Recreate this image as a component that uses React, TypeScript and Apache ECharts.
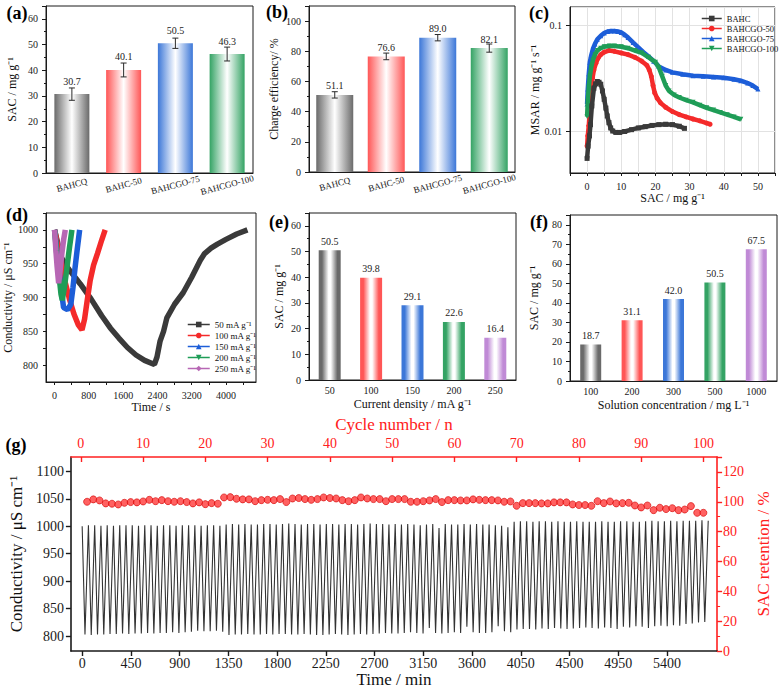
import { useEffect, useRef } from 'react';
import * as echarts from 'echarts';

const FONT = '"Liberation Serif", "Times New Roman", Times, serif';

// ---------- (a) / (b)
const electrodeNames = ['BAHCQ', 'BAHC-50', 'BAHCGO-75', 'BAHCGO-100'];
const sacValues = [30.7, 40.1, 50.5, 46.3];
const sacErrors = [2.4, 2.7, 2.0, 2.7];
const ceValues = [51.1, 76.6, 89.0, 82.1];
const ceErrors = [2.1, 2.2, 2.1, 2.7];

// ---------- (c) MSAR vs SAC
const cNames = ['BAHC', 'BAHCGO-50', 'BAHCGO-75', 'BAHCGO-100'];
const bahcX = [0, 0.3, 0.7, 1.0, 1.4, 2.0, 2.5, 3.0, 3.5, 4.0, 4.5, 5.0, 5.5, 5.9, 6.4, 6.9, 7.5, 8.4, 9.5, 11, 13, 15, 17, 19, 21, 23, 25, 27, 28.5];
const bahcY = [0.0055, 0.0072, 0.009, 0.0115, 0.0173, 0.0255, 0.028, 0.0295, 0.029, 0.0278, 0.024, 0.02, 0.0165, 0.0139, 0.012, 0.0107, 0.01, 0.0097, 0.0097, 0.0099, 0.0103, 0.0107, 0.011, 0.0113, 0.0115, 0.0116, 0.0115, 0.0111, 0.0106];
const go50X = [0, 0.2, 0.5, 0.8, 1.2, 1.6, 2.0, 2.6, 3.2, 4, 5, 6.4, 8, 10, 12, 14, 16, 17.5, 18.2, 18.8, 19.3, 19.8, 20.5, 21.5, 23, 25, 27, 29, 31, 33, 35, 36];
const go50Y = [0.0072, 0.009, 0.0112, 0.016, 0.024, 0.032, 0.038, 0.044, 0.049, 0.053, 0.056, 0.058, 0.057, 0.055, 0.053, 0.05, 0.046, 0.042, 0.038, 0.033, 0.027, 0.023, 0.0205, 0.0185, 0.0168, 0.0153, 0.0143, 0.0136, 0.013, 0.0125, 0.0119, 0.0116];
const go75X = [0, 0.2, 0.5, 0.8, 1.2, 1.7, 2.3, 3, 4, 5, 6, 7, 8, 9, 10, 11, 12, 13.5, 15, 16.5, 18, 19.5, 21, 23, 25, 28, 31, 34, 37, 40, 43, 45, 47, 48.5, 50];
const go75Y = [0.018, 0.025, 0.035, 0.045, 0.052, 0.06, 0.067, 0.074, 0.08, 0.085, 0.088, 0.089, 0.089, 0.088, 0.086, 0.082, 0.077, 0.069, 0.062, 0.056, 0.051, 0.046, 0.041, 0.038, 0.036, 0.0345, 0.0335, 0.033, 0.0325, 0.032, 0.031, 0.03, 0.0285, 0.027, 0.025];
const go100X = [0, 0.2, 0.5, 0.8, 1.2, 1.7, 2.3, 3, 4, 5, 6.5, 8, 10, 12, 14, 16, 18, 20, 21, 22, 23, 24, 25.5, 27, 29, 31, 33, 35, 37, 39, 41, 43, 45];
const go100Y = [0.0137, 0.019, 0.026, 0.033, 0.04, 0.047, 0.053, 0.058, 0.061, 0.063, 0.064, 0.064, 0.063, 0.061, 0.058, 0.055, 0.05, 0.045, 0.04, 0.033, 0.027, 0.024, 0.022, 0.0208, 0.0196, 0.0187, 0.0176, 0.0166, 0.0158, 0.015, 0.0143, 0.0136, 0.0129];

// ---------- (d) conductivity vs time
const dNames = ['50 mA g\u207B\u00B9', '100 mA g\u207B\u00B9', '150 mA g\u207B\u00B9', '200 mA g\u207B\u00B9', '250 mA g\u207B\u00B9'];
const d50T = [0, 150, 330, 600, 850, 1100, 1300, 1500, 1700, 1900, 2100, 2330, 2390, 2460, 2543, 2620, 2800, 3000, 3200, 3400, 3500, 3650, 3800, 4000, 4250, 4500];
const d50C = [1000, 960, 942, 920, 898, 873, 855, 840, 826, 815, 807, 801, 812, 835, 850, 870, 890, 907, 930, 955, 965, 973, 979, 986, 994, 1000];
const d100T = [0, 80, 160, 250, 350, 450, 550, 640, 700, 760, 830, 910, 1000, 1100, 1180];
const d100C = [1000, 975, 950, 922, 897, 876, 860, 852, 868, 895, 925, 948, 965, 985, 1000];
const d150T = [0, 70, 140, 210, 300, 380, 430, 480, 530, 585];
const d150C = [1000, 960, 920, 885, 882, 890, 915, 945, 972, 1000];
const d200T = [0, 50, 100, 150, 180, 230, 290, 350, 405];
const d200C = [1000, 965, 935, 905, 896, 915, 945, 975, 1000];
const d250T = [0, 30, 60, 95, 130, 170, 210, 250];
const d250C = [1000, 970, 945, 921, 940, 965, 985, 1000];

// ---------- (e) current density
const currentDensity = ['50', '100', '150', '200', '250'];
const sacByCurrent = [50.5, 39.8, 29.1, 22.6, 16.4];

// ---------- (f) solution concentration
const concentration = ['100', '200', '300', '500', '1000'];
const sacByConc = [18.7, 31.1, 42.0, 50.5, 67.5];

// ---------- (g) cycling
const cyclePeriodMin = 57.8;
const cyclePeaks = [
  1000, 1002, 1002, 1001, 1002, 1001, 1002, 1002, 1002, 1001, 1002, 1002, 1001, 1002, 1002, 1001, 1002, 1002, 1002, 1001, 1002, 1002, 1001,
  1003, 1004, 1003, 1004, 1003, 1003, 1004, 1004, 1003, 1004, 1005, 1004, 1003, 1004, 1004, 1003, 1004, 1004, 1003, 1004, 1004, 1003, 1004,
  1005, 1004, 1004, 1003, 1004, 1003, 1004, 1003, 1002, 1003, 1004, 997, 1004, 1003, 1003, 1004, 1003, 1004, 1003, 1003, 1002, 1001, 998,
  1008, 1009, 1009, 1008, 1009, 1009, 1008, 1009, 1008, 1008, 1009, 1008, 1008, 1008, 1009, 1008, 1008, 1009, 1009, 1008, 1008, 1009, 1010, 1009, 1009, 1010, 1009, 1010, 1010, 1010, 1011, 1010,
];
const cycleTroughs = [
  803, 802, 803, 803, 804, 804, 805, 804, 805, 805, 806, 805, 806, 806, 807, 806, 807, 808, 810, 809, 809, 810, 808,
  802, 803, 803, 804, 803, 803, 804, 803, 804, 804, 803, 803, 804, 803, 802, 802, 803, 804, 803, 802, 803, 804, 803,
  804, 805, 806, 805, 805, 806, 807, 806, 805, 815, 806, 805, 806, 807, 806, 817, 807, 806, 806, 807, 818, 809, 807,
  812, 813, 813, 812, 814, 813, 815, 814, 813, 814, 815, 816, 815, 814, 816, 815, 813, 817, 816, 818, 817, 815, 818, 819, 818, 820, 819, 822, 823, 825, 826,
];
const retention = [
  100.0, 101.6, 100.9, 98.9, 98.7, 98.2, 99.3, 99.8, 99.6, 100.2,
  101.3, 100.4, 101.1, 100.4, 100.0, 100.4, 99.8, 98.9, 99.6, 98.4,
  99.1, 98.7, 102.9, 103.1, 102.0, 101.6, 101.6, 100.4, 101.1, 101.3,
  101.1, 101.8, 99.8, 102.2, 102.5, 101.8, 101.3, 101.8, 102.9, 102.5,
  102.2, 101.1, 100.4, 101.1, 102.9, 102.2, 101.8, 101.8, 100.4, 101.8,
  101.8, 101.8, 100.0, 100.0, 100.4, 100.9, 101.8, 99.8, 101.1, 101.1,
  100.9, 100.9, 101.6, 101.3, 101.1, 101.1, 100.9, 100.0, 100.2, 97.3,
  99.1, 99.1, 99.1, 98.9, 98.9, 99.6, 99.6, 99.6, 98.2, 97.8,
  97.8, 97.3, 100.4, 99.1, 100.2, 98.9, 99.1, 99.3, 97.5, 96.2,
  97.5, 94.4, 96.0, 95.1, 95.7, 94.4, 94.8, 97.1, 92.6, 92.6,
];
const timeTicks = [0, 450, 900, 1350, 1800, 2250, 2700, 3150, 3600, 4050, 4500, 4950, 5400];
const cycleTicks = [0, 10, 20, 30, 40, 50, 60, 70, 80, 90, 100];
const condTicksG = [800, 850, 900, 950, 1000, 1050, 1100];
const dTimeTicks = [0, 800, 1600, 2400, 3200, 4000];
const dCondTicks = [800, 850, 900, 950, 1000];

const barColors = ['#6a6a6a', '#ff5656', '#3c77d8', '#34a364', '#c08ad6'];
const cColors = ['#3a3a3a', '#f42a2a', '#1d5ed8', '#1f9d57'];
const dColors = ['#3a3a3a', '#f42a2a', '#1d5ed8', '#1f9d57', '#b767b4'];

const zip = (xs: number[], ys: number[]) => xs.map((x, i) => [x, ys[i]]);

const gradSoft = (c: string) => ({
  type: 'linear', x: 0, y: 0, x2: 1, y2: 0,
  colorStops: [
    { offset: 0, color: c },
    { offset: 0.5, color: '#ffffff' },
    { offset: 1, color: c },
  ],
});
const gradBand = (c: string) => ({
  type: 'linear', x: 0, y: 0, x2: 1, y2: 0,
  colorStops: [
    { offset: 0, color: c },
    { offset: 0.15, color: c },
    { offset: 0.45, color: '#ffffff' },
    { offset: 0.55, color: '#ffffff' },
    { offset: 0.85, color: c },
    { offset: 1, color: c },
  ],
});

const errRender = (_p: any, api: any) => {
  const i = api.value(0);
  const lo = api.coord([i, api.value(1)]);
  const hi = api.coord([i, api.value(2)]);
  const cap = 3;
  const st = { stroke: '#2a2a2a', lineWidth: 1 };
  return {
    type: 'group',
    children: [
      { type: 'line', shape: { x1: lo[0], y1: lo[1], x2: hi[0], y2: hi[1] }, style: st },
      { type: 'line', shape: { x1: lo[0] - cap, y1: lo[1], x2: lo[0] + cap, y2: lo[1] }, style: st },
      { type: 'line', shape: { x1: hi[0] - cap, y1: hi[1], x2: hi[0] + cap, y2: hi[1] }, style: st },
    ],
  };
};

const INK = '#1a1a1a';
const RED = '#ff2020';

function axisBase(extra: any) {
  const base: any = {
    axisLine: { show: true, onZero: false, lineStyle: { color: INK, width: 1 } },
    axisTick: { show: true, length: 4, lineStyle: { color: INK } },
    axisLabel: { color: INK, fontSize: 10, fontFamily: FONT, formatter: (v: any) => String(v) },
    splitLine: { show: false },
    nameLocation: 'middle',
    nameTextStyle: { color: '#111', fontSize: 12, fontFamily: FONT },
  };
  const out: any = { ...base, ...extra };
  for (const k of ['axisLine', 'axisTick', 'axisLabel', 'nameTextStyle']) {
    if (extra[k]) out[k] = { ...base[k], ...extra[k] };
  }
  return out;
}

const pLabel = (text: string, x: number, y: number) => ({
  type: 'text',
  x,
  y,
  z: 100,
  style: { text, fontSize: 18, fontWeight: 'bold', fontFamily: FONT, fill: '#000', align: 'center', verticalAlign: 'middle' },
});

export default function App() {
  const ref = useRef<HTMLDivElement>(null);
  useEffect(() => {
    if (!ref.current) return;
    const chart = echarts.init(ref.current, undefined, { renderer: 'svg' });

    const gLine: number[][] = [];
    cyclePeaks.forEach((p, i) => {
      gLine.push([i * cyclePeriodMin, p]);
      if (i < cycleTroughs.length) gLine.push([(i + 0.45) * cyclePeriodMin, cycleTroughs[i]]);
    });

    const barLabel = (dist: number) => ({
      show: true,
      position: 'top',
      distance: dist,
      fontSize: 10,
      fontFamily: FONT,
      color: '#222',
      formatter: (p: any) => Number(p.value).toFixed(1),
    });

    const option: any = {
      animation: false,
      backgroundColor: '#fff',
      textStyle: { fontFamily: FONT },
      grid: [
        { left: 46, top: 6, width: 207, height: 167, show: true, borderColor: INK, borderWidth: 1 },
        { left: 309, top: 6, width: 206, height: 166, show: true, borderColor: INK, borderWidth: 1 },
        { left: 570, top: 7, width: 205, height: 166, show: true, borderColor: INK, borderWidth: 1 },
        { left: 46, top: 213, width: 210, height: 169, show: true, borderColor: INK, borderWidth: 1 },
        { left: 309, top: 213, width: 207, height: 167, show: true, borderColor: INK, borderWidth: 1 },
        { left: 570, top: 215, width: 207, height: 166, show: true, borderColor: INK, borderWidth: 1 },
        { left: 60, top: 457, width: 671, height: 195 },
      ],
      xAxis: [
        axisBase({
          type: 'category', gridIndex: 0, data: electrodeNames,
          axisTick: { show: false },
          axisLabel: { rotate: 15, fontSize: 9, margin: 12, align: 'center', verticalAlign: 'middle' },
        }),
        axisBase({
          type: 'category', gridIndex: 1, data: electrodeNames,
          axisTick: { show: false },
          axisLabel: { rotate: 15, fontSize: 9, margin: 12, align: 'center', verticalAlign: 'middle' },
        }),
        axisBase({
          type: 'value', gridIndex: 2, min: -5, max: 55, interval: 5,
          name: 'SAC / mg g\u207B\u00B9', nameGap: 19,
          axisLabel: { formatter: (v: number) => (Math.round(v) % 10 === 0 && v >= 0 ? String(v) : '') },
          axisTick: { length: 3 },
          splitLine: { show: true, lineStyle: { color: '#e2e2e2', width: 1 } },
        }),
        axisBase({
          type: 'value', gridIndex: 3, min: -200, max: 4700,
          name: 'Time / s', nameGap: 18,
          axisLabel: { customValues: dTimeTicks },
          axisTick: { customValues: [0, 400, 800, 1200, 1600, 2000, 2400, 2800, 3200, 3600, 4000, 4400], length: 3 },
        }),
        axisBase({
          type: 'category', gridIndex: 4, data: currentDensity,
          name: 'Current density / mA g\u207B\u00B9', nameGap: 18,
          axisTick: { show: false }, axisLabel: { margin: 5 },
        }),
        axisBase({
          type: 'category', gridIndex: 5, data: concentration,
          name: 'Solution concentration / mg L\u207B\u00B9', nameGap: 18,
          axisTick: { show: false }, axisLabel: { margin: 5 },
        }),
        axisBase({
          type: 'value', gridIndex: 6, min: -104, max: 5862,
          name: 'Time / min', nameGap: 20,
          axisLine: { lineStyle: { color: INK, width: 1.6 } },
          axisLabel: { customValues: timeTicks, fontSize: 14, margin: 5 },
          axisTick: { customValues: timeTicks, length: 5, lineStyle: { width: 1.4 } },
          nameTextStyle: { fontSize: 17 },
        }),
        axisBase({
          type: 'value', gridIndex: 6, position: 'top', min: -1.6, max: 102.2,
          name: 'Cycle number / n', nameGap: 24,
          axisLine: { lineStyle: { color: RED, width: 1.6 } },
          axisLabel: { customValues: cycleTicks, fontSize: 14, margin: 7, color: RED },
          axisTick: { customValues: cycleTicks, inside: true, length: 5, lineStyle: { color: RED, width: 1.4 } },
          nameTextStyle: { fontSize: 17, color: RED },
        }),
      ],
      yAxis: [
        axisBase({
          type: 'value', gridIndex: 0, min: 0, max: 65, interval: 10,
          name: 'SAC / mg g\u207B\u00B9', nameGap: 28,
          axisLabel: { showMaxLabel: false },
          minorTick: { show: true, splitNumber: 2, length: 2, lineStyle: { color: INK } },
        }),
        axisBase({
          type: 'value', gridIndex: 1, min: 0, max: 110, interval: 20,
          name: 'Charge efficiency/ %', nameGap: 29,
          axisLabel: { showMaxLabel: false },
          minorTick: { show: true, splitNumber: 2, length: 2, lineStyle: { color: INK } },
        }),
        axisBase({
          type: 'log', gridIndex: 2, min: 0.004, max: 0.15, logBase: 10,
          name: 'MSAR / mg g\u207B\u00B9 s\u207B\u00B9', nameGap: 25,
          axisLabel: {
            showMinLabel: false, showMaxLabel: false,
            formatter: (v: number) => {
              const l = Math.log10(v);
              if (Math.abs(l + 2) < 1e-6) return '0.01';
              if (Math.abs(l + 1) < 1e-6) return '0.1';
              return '';
            },
          },
          splitLine: { show: true, lineStyle: { color: '#e2e2e2', width: 1 } },
        }),
        axisBase({
          type: 'value', gridIndex: 3, min: 775, max: 1025,
          name: 'Conductivity / \u03BCS cm\u207B\u00B9', nameGap: 25,
          axisLabel: { customValues: dCondTicks },
          axisTick: { customValues: [800, 825, 850, 875, 900, 925, 950, 975, 1000, 1025], length: 3 },
        }),
        axisBase({
          type: 'value', gridIndex: 4, min: 0, max: 65, interval: 10,
          name: 'SAC / mg g\u207B\u00B9', nameGap: 24,
          axisLabel: { showMaxLabel: false },
          minorTick: { show: true, splitNumber: 2, length: 2, lineStyle: { color: INK } },
        }),
        axisBase({
          type: 'value', gridIndex: 5, min: 0, max: 85, interval: 10,
          name: 'SAC / mg g\u207B\u00B9', nameGap: 30,
          axisLabel: { showMaxLabel: false },
          minorTick: { show: true, splitNumber: 2, length: 2, lineStyle: { color: INK } },
        }),
        axisBase({
          type: 'value', gridIndex: 6, min: 773, max: 1126,
          name: 'Conductivity / \u03BCS cm\u207B\u00B9', nameGap: 36,
          axisLine: { lineStyle: { color: INK, width: 1.6 } },
          axisLabel: { customValues: condTicksG, fontSize: 14, margin: 7 },
          axisTick: { customValues: condTicksG, length: 5, lineStyle: { width: 1.4 } },
          nameTextStyle: { fontSize: 17 },
        }),
        axisBase({
          type: 'value', gridIndex: 6, position: 'right', min: 0, max: 130, interval: 20,
          name: 'SAC retention / %', nameGap: 31,
          axisLine: { lineStyle: { color: RED, width: 1.6 } },
          axisLabel: { fontSize: 14, margin: 6, color: RED, showMaxLabel: false },
          axisTick: { length: 5, lineStyle: { color: RED, width: 1.4 } },
          minorTick: { show: true, splitNumber: 2, length: 3, lineStyle: { color: RED } },
          nameTextStyle: { fontSize: 17, color: RED },
        }),
      ],
      legend: [
        {
          data: cNames, orient: 'vertical', left: 696, top: 9, itemGap: 1, itemWidth: 20, itemHeight: 7,
          textStyle: { fontSize: 8.5, fontFamily: FONT, color: '#111' }, lineStyle: { width: 1.5 },
        },
        {
          data: dNames, orient: 'vertical', left: 182, top: 315, itemGap: 2, itemWidth: 22, itemHeight: 7,
          textStyle: { fontSize: 9, fontFamily: FONT, color: '#111' }, lineStyle: { width: 1.5 },
        },
      ],
      graphic: [
        pLabel('(a)', 17, 13),
        pLabel('(b)', 277, 12),
        pLabel('(c)', 539, 13),
        pLabel('(d)', 17, 215),
        pLabel('(e)', 279, 222),
        pLabel('(f)', 539, 222),
        pLabel('(g)', 16, 445),
      ],
      series: [
        {
          type: 'bar', xAxisIndex: 0, yAxisIndex: 0, barWidth: 35,
          data: sacValues.map((v, i) => ({ value: v, itemStyle: { color: gradSoft(barColors[i]) } })),
          label: barLabel(8),
        },
        {
          type: 'custom', xAxisIndex: 0, yAxisIndex: 0, renderItem: errRender, z: 5,
          encode: { x: 0, y: [1, 2] },
          data: sacValues.map((v, i) => [i, v - sacErrors[i], v + sacErrors[i]]),
        },
        {
          type: 'bar', xAxisIndex: 1, yAxisIndex: 1, barWidth: 37,
          data: ceValues.map((v, i) => ({ value: v, itemStyle: { color: gradSoft(barColors[i]) } })),
          label: barLabel(4),
        },
        {
          type: 'custom', xAxisIndex: 1, yAxisIndex: 1, renderItem: errRender, z: 5,
          encode: { x: 0, y: [1, 2] },
          data: ceValues.map((v, i) => [i, v - ceErrors[i], v + ceErrors[i]]),
        },
        ...[
          [bahcX, bahcY, 'rect'],
          [go50X, go50Y, 'circle'],
          [go75X, go75Y, 'triangle'],
          [go100X, go100Y, 'path://M0,0 L10,0 L5,9 Z'],
        ].map((s: any, i) => ({
          type: 'line', name: cNames[i], xAxisIndex: 2, yAxisIndex: 2,
          data: zip(s[0], s[1]), symbol: s[2], symbolSize: 5, showSymbol: true,
          lineStyle: { width: 4.5, color: cColors[i] }, itemStyle: { color: cColors[i] },
          z: 3 + (i === 0 ? 4 : i),
        })),
        ...[
          [d50T, d50C, 'rect'],
          [d100T, d100C, 'circle'],
          [d150T, d150C, 'triangle'],
          [d200T, d200C, 'path://M0,0 L10,0 L5,9 Z'],
          [d250T, d250C, 'diamond'],
        ].map((s: any, i) => ({
          type: 'line', name: dNames[i], xAxisIndex: 3, yAxisIndex: 3,
          data: zip(s[0], s[1]), symbol: s[2], symbolSize: 5, showSymbol: false,
          lineStyle: { width: 5.5, color: dColors[i] }, itemStyle: { color: dColors[i] },
          z: 3 + i,
        })),
        {
          type: 'bar', xAxisIndex: 4, yAxisIndex: 4, barWidth: 22,
          data: sacByCurrent.map((v, i) => ({ value: v, itemStyle: { color: gradBand(barColors[i]) } })),
          label: barLabel(4),
        },
        {
          type: 'bar', xAxisIndex: 5, yAxisIndex: 5, barWidth: 21,
          data: sacByConc.map((v, i) => ({ value: v, itemStyle: { color: gradBand(barColors[i]) } })),
          label: barLabel(3.5),
        },
        {
          type: 'line', xAxisIndex: 6, yAxisIndex: 6, data: gLine, showSymbol: false,
          lineStyle: { width: 1.1, color: '#333' },
        },
        {
          type: 'scatter', xAxisIndex: 7, yAxisIndex: 7,
          data: retention.map((v, i) => [i + 1, v]),
          symbolSize: 7,
          itemStyle: { color: '#ff3a3a', borderColor: '#d40000', borderWidth: 0.8 },
          z: 5,
        },
      ],
    };
    chart.setOption(option);
    return () => chart.dispose();
  }, []);
  return <div ref={ref} style={{ position: 'absolute', left: 0, top: 0, width: 780, height: 689 }} />;
}
